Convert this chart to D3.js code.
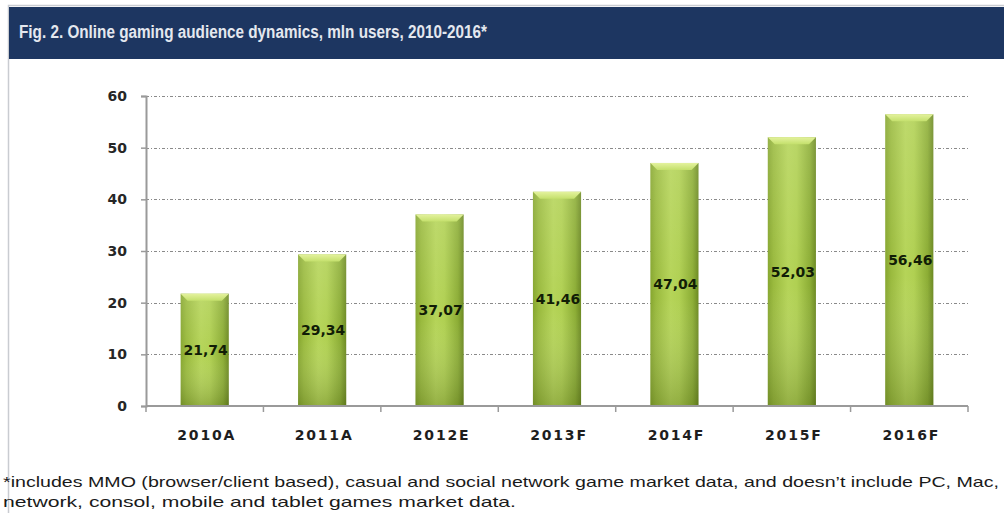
<!DOCTYPE html>
<html>
<head>
<meta charset="utf-8">
<script src="https://cdn.jsdelivr.net/npm/d3@7/dist/d3.min.js"></script>
<style>
  html, body { margin: 0; padding: 0; background: #ffffff; }
  svg { display: block; }
</style>
</head>
<body>
<svg id="chart" width="1004" height="513"></svg>
<script>
// Online gaming audience, mln users
const categories = ["2010A", "2011A", "2012E", "2013F", "2014F", "2015F", "2016F"];
const audience = [21.74, 29.34, 37.07, 41.46, 47.04, 52.03, 56.46];
const yTicks = [0, 10, 20, 30, 40, 50, 60];
const titleText = "Fig. 2. Online gaming audience dynamics, mln users, 2010-2016*";
const noteLines = [
  "*includes MMO (browser/client based), casual and social network game market data, and doesn\u2019t include PC, Mac,",
  "network, consol, mobile and tablet games market data."
];

const svg = d3.select("#chart");
const W = 1004, H = 513;

// Panel frame and title band
svg.append("rect").attr("x", 8.5).attr("y", 5.5).attr("width", W).attr("height", H)
  .attr("fill", "#fff").attr("stroke", "#c9ccd1").attr("stroke-width", 1.5);
svg.append("rect").attr("x", 9).attr("y", 7).attr("width", W - 9).attr("height", 52)
  .attr("fill", "#1d3661");
svg.append("text").attr("x", 19).attr("y", 38)
  .attr("font-family", "'Liberation Sans', Arial, sans-serif")
  .attr("font-weight", "bold").attr("font-size", 17.5)
  .attr("fill", "#e4e8ef")
  .attr("textLength", 468).attr("lengthAdjust", "spacingAndGlyphs")
  .text(titleText);

// Scales
const x = d3.scaleBand().domain(categories).range([146, 968])
  .paddingInner(0.59).paddingOuter(0.295);
const y = d3.scaleLinear().domain([0, 60]).range([406, 96]);

// Gradients for the bars
const defs = svg.append("defs");
const gH = defs.append("linearGradient").attr("id", "barH")
  .attr("x1", "0").attr("x2", "1").attr("y1", "0").attr("y2", "0");
[["0%", "#86a62f"], ["12%", "#9aba3e"], ["42%", "#b5d458"], ["60%", "#b0d052"], ["88%", "#8cad35"], ["100%", "#6c8922"]]
  .forEach(([o, c]) => gH.append("stop").attr("offset", o).attr("stop-color", c));
const gV = defs.append("linearGradient").attr("id", "barV")
  .attr("x1", "0").attr("x2", "0").attr("y1", "0").attr("y2", "1");
[["0%", "#ffffff", 0.12], ["55%", "#ffffff", 0.0], ["100%", "#2d3d05", 0.24]]
  .forEach(([o, c, a]) => gV.append("stop").attr("offset", o).attr("stop-color", c).attr("stop-opacity", a));
const gTop = defs.append("linearGradient").attr("id", "barTop")
  .attr("x1", "0").attr("x2", "0").attr("y1", "0").attr("y2", "1");
[["0%", "#e4f29e"], ["100%", "#c4e06c"]]
  .forEach(([o, c]) => gTop.append("stop").attr("offset", o).attr("stop-color", c));

// Gridlines
const grid = svg.append("g");
grid.selectAll("line").data(yTicks.filter(t => t > 0)).join("line")
  .attr("x1", 146).attr("x2", 968)
  .attr("y1", d => Math.round(y(d)) + 0.5).attr("y2", d => Math.round(y(d)) + 0.5)
  .attr("stroke", "#8a8a8a").attr("stroke-width", 1)
  .attr("stroke-dasharray", "3,2,1,2");

// Bars
const data = categories.map((c, i) => ({ cat: c, v: audience[i] }));
const bars = svg.append("g").selectAll("g").data(data).join("g");
const bw = x.bandwidth();
const bev = 7;
bars.append("rect")
  .attr("x", d => x(d.cat)).attr("y", d => y(d.v))
  .attr("width", bw).attr("height", d => y(0) - y(d.v))
  .attr("fill", "url(#barH)");
bars.append("rect")
  .attr("x", d => x(d.cat)).attr("y", d => y(d.v))
  .attr("width", bw).attr("height", d => y(0) - y(d.v))
  .attr("fill", "url(#barV)");
bars.append("path")
  .attr("d", d => {
    const x0 = x(d.cat), x1 = x0 + bw, t = y(d.v);
    return `M${x0},${t} L${x1},${t} L${x1 - bev},${t + bev} L${x0 + bev},${t + bev} Z`;
  })
  .attr("fill", "url(#barTop)");

// Y axis
const yAxis = d3.axisLeft(y).tickValues(yTicks).tickSize(5).tickPadding(14)
  .tickFormat(d3.format("d"));
const gy = svg.append("g").attr("transform", "translate(146,0)").call(yAxis);
gy.select(".domain").attr("stroke", "#9a9a9a").attr("stroke-width", 2);
gy.selectAll(".tick line").attr("stroke", "#9a9a9a").attr("stroke-width", 1.5);
gy.selectAll(".tick text")
  .attr("font-family", "'DejaVu Sans', Verdana, sans-serif")
  .attr("font-weight", "bold").attr("font-size", 14).attr("fill", "#262626");

// X axis: baseline with ticks on category boundaries
const step = x.step();
const bounds = d3.range(categories.length + 1).map(i => 146 + i * step);
const gx = svg.append("g");
gx.append("line").attr("x1", 146).attr("x2", 968).attr("y1", y(0)).attr("y2", y(0))
  .attr("stroke", "#9a9a9a").attr("stroke-width", 2);
gx.selectAll("line.tk").data(bounds).join("line").attr("class", "tk")
  .attr("x1", d => d).attr("x2", d => d)
  .attr("y1", y(0)).attr("y2", y(0) + 6)
  .attr("stroke", "#9a9a9a").attr("stroke-width", 1.5);
gx.selectAll("text").data(categories).join("text")
  .attr("x", d => x(d) + bw / 2 + 2).attr("y", 440)
  .attr("text-anchor", "middle")
  .attr("font-family", "'DejaVu Sans', Verdana, sans-serif")
  .attr("font-weight", "bold").attr("font-size", 14)
  .attr("letter-spacing", 1.8)
  .attr("fill", "#1e1e1e")
  .text(d => d);

// Value labels centred in each bar
const fmt = v => d3.format(".2f")(v).replace(".", ",");
bars.append("text")
  .attr("x", d => x(d.cat) + bw / 2 + 1)
  .attr("y", d => (y(d.v) + y(0)) / 2 + 5)
  .attr("text-anchor", "middle")
  .attr("font-family", "'DejaVu Sans', Verdana, sans-serif")
  .attr("font-weight", "bold").attr("font-size", 14)
  .attr("fill", "#111d06")
  .text(d => fmt(d.v));

// Footnote
svg.selectAll("text.note").data(noteLines).join("text").attr("class", "note")
  .attr("x", 3).attr("y", (d, i) => 487 + i * 20)
  .attr("font-family", "'Liberation Sans', Arial, sans-serif")
  .attr("font-size", 15).attr("fill", "#1a1a1a")
  .attr("textLength", (d, i) => i === 0 ? 996 : 513)
  .attr("lengthAdjust", "spacingAndGlyphs")
  .text(d => d);
</script>
</body>
</html>
